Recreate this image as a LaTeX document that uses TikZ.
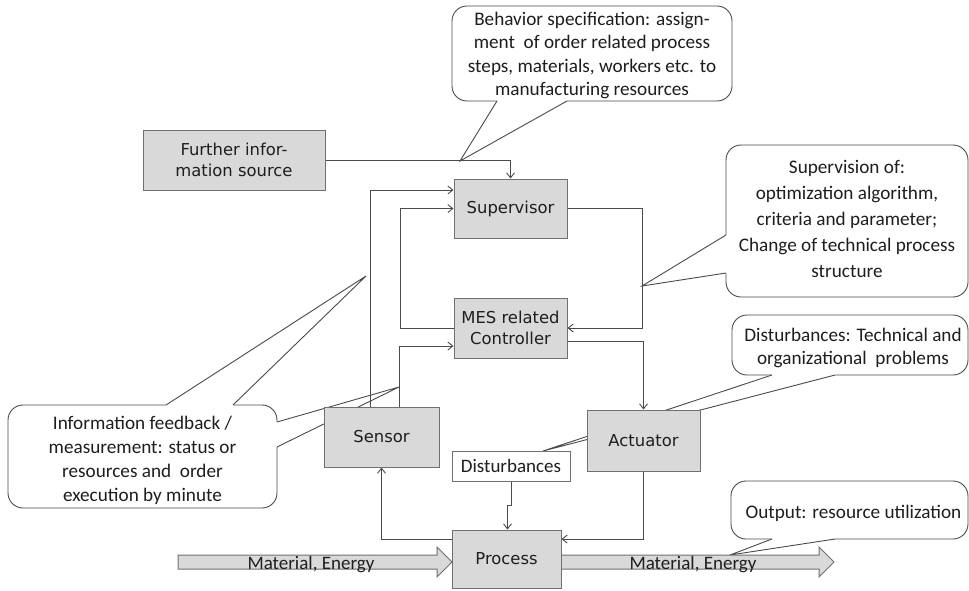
\documentclass[tikz,border=0pt]{standalone}
\usepackage{fontspec}
\setmainfont{Carlito}
\newfontfamily\blockfont{DejaVu Sans}
\usetikzlibrary{arrows.meta,calc}
\pgfdeclarelayer{paper}
\pgfdeclarelayer{notes}
\pgfdeclarelayer{wires}
\pgfsetlayers{paper,notes,wires,main}

\definecolor{wire}{HTML}{4A4A4A}
\definecolor{boxfill}{HTML}{D9D9D9}
\definecolor{boxline}{HTML}{707070}
\definecolor{ink}{HTML}{1E1E1E}

% pointer of a speech bubble: base points #1 and #2 on the bubble border,
% tip #3, #4 = small shift into the bubble so the border gap is covered
\newcommand\calloutwedge[4]{%
  \fill[white] (#1) -- (#3) -- (#2) -- ($(#2)+(#4)$) -- ($(#1)+(#4)$) -- cycle;
  \draw[wireline] (#1) -- (#3) -- (#2);}

\begin{document}
\begin{tikzpicture}[x=1pt,y=-1pt,
  wireline/.style={draw=wire, line width=0.9pt},
  arr/.style={wireline, -{Straight Barb[length=5pt,width=8pt,line width=0.9pt]}},
  block/.style={draw=boxline, fill=boxfill, line width=1pt, text=ink,
    font=\blockfont\fontsize{16.4}{20.5}\selectfont, align=center, inner sep=0pt},
  note/.style={draw=wire, fill=white, rounded corners=15pt, line width=0.9pt, inner sep=0pt},
  notetext/.style={inner sep=0pt, text=ink, align=center, font=\fontsize{19.2}{23.5}\selectfont},
  flowarrow/.style={draw=boxline, fill=boxfill, line width=1pt},
  flowtext/.style={text=ink, font=\fontsize{19}{23}\selectfont, inner sep=0pt, anchor=base},
]
\begin{pgfonlayer}{paper}
\fill[white] (0,0) rectangle (969,590);
\end{pgfonlayer}
\useasboundingbox (0,0) rectangle (969,590);

% ---------- blocks ----------
\node[block, minimum width=182pt, minimum height=60pt] (further) at (234,160) {Further infor-\\mation source};
\node[block, minimum width=113pt, minimum height=59pt] (sup) at (510.5,208.5) {Supervisor};
\node[block, minimum width=113pt, minimum height=60pt] (mes) at (510.5,328) {MES related\\Controller};
\node[block, minimum width=115pt, minimum height=60pt] (sensor) at (381.5,437) {Sensor};
\node[block, minimum width=113pt, minimum height=61pt] (act) at (643.5,440.5) {Actuator};
\node[block, fill=white, font=\fontsize{19}{23}\selectfont, minimum width=118pt, minimum height=30pt] (dist) at (511,466) {Disturbances};
\node[block, minimum width=109pt, minimum height=58pt] (proc) at (506.5,559) {Process};

% ---------- speech bubbles ----------
\begin{pgfonlayer}{notes}
\node[note, minimum width=280pt, minimum height=95pt,
  label={[notetext, yshift=-2pt]center:{Behavior specification: assign-\\ment\ \ of order related process\\steps, materials, workers etc. to\\manufacturing resources}}] (spec) at (592,53.5) {};
\calloutwedge{497,101}{567,101}{460,161}{0,-2}

\node[note, minimum width=242pt, minimum height=152pt,
  label={[notetext, font=\fontsize{19.2}{26}\selectfont, yshift=2pt]center:{Supervision of:\\optimization algorithm,\\criteria and parameter;\\Change of technical process\\structure}}] (supnote) at (847,221) {};
\calloutwedge{726,235}{726,273}{642,286}{2,0}

\node[note, minimum width=269pt, minimum height=103pt,
  label={[notetext, font=\fontsize{19.2}{24}\selectfont, yshift=-4pt]center:{Information feedback /\\measurement: status or\\resources and\ \ order\\execution by minute}}] (feedback) at (142.5,456.5) {};
\calloutwedge{166,405}{233,405}{366,276}{0,2}
\calloutwedge{277,422}{277,447}{399,387}{-2,0}

\node[note, minimum width=236pt, minimum height=60pt,
  label={[notetext, yshift=-3pt, xshift=3pt]center:{Disturbances: Technical and\\organizational\ \ problems}}] (distnote) at (850,345) {};
\calloutwedge{772,375}{835,375}{543,451}{0,-2}

\node[note, minimum width=237pt, minimum height=58pt,
  label={[notetext, yshift=-3pt, xshift=4pt]center:{Output: resource utilization}}] (outnote) at (849.5,510) {};
\calloutwedge{772,539}{835,539}{730,555}{0,-2}
\end{pgfonlayer}

% ---------- connectors ----------
\coordinate (fbA) at (370,190);
\coordinate (fbB) at (400,208.5);
\coordinate (fbC) at (399,346);
\coordinate (dnA) at (642,0);
\coordinate (dnB) at (0,341);
\coordinate (rtA) at (0,539);
\coordinate (jog) at (507.5,505);

\begin{pgfonlayer}{wires}
\draw[arr] (further.east) -| (sup.north);
\draw[arr] (sensor.north -| fbA) |- (sup.west |- fbA);
\draw[arr] (mes.west) -| (fbB) -- (sup.west);
\draw[arr] (sensor.north -| fbC) |- (mes.west |- fbC);
\draw[arr] (sup.east) -| (dnA |- mes.east) -- (mes.east);
\draw[arr] (mes.east |- dnB) -| (act.north);
\draw[arr] (act.south) |- (proc.east |- rtA);
\draw[arr] (proc.west |- rtA) -| (sensor.south);
\draw[arr] (dist.south) |- (jog) -- (proc.north -| jog);

% material and energy flow
\draw[flowarrow] (178,555) -- (437,555) -- (437,547) -- (452,562) -- (437,577) -- (437,569) -- (178,569) -- cycle;
\draw[flowarrow] (561,555) -- (819,555) -- (819,547) -- (834,562) -- (819,577) -- (819,569) -- (561,569) -- cycle;
\end{pgfonlayer}
\node[flowtext] (matin) at (311,569.5) {Material, Energy};
\node[flowtext] (matout) at (693,569.5) {Material, Energy};
\end{tikzpicture}
\end{document}
